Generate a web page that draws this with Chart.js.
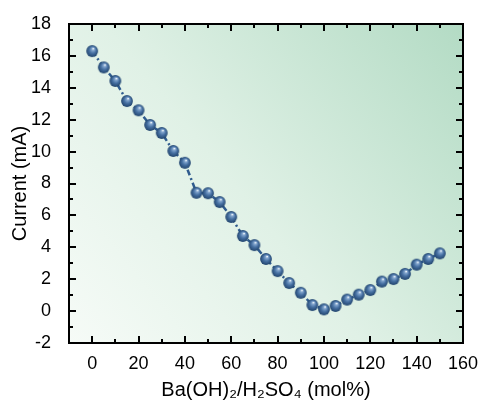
<!DOCTYPE html>
<html>
<head>
<meta charset="utf-8">
<script src="https://cdn.jsdelivr.net/npm/chart.js@4.4.0/dist/chart.umd.min.js"></script>
<style>
html,body{margin:0;padding:0;background:#fff;}
#wrap{width:481px;height:402px;position:relative;}
</style>
</head>
<body>
<div id="wrap"><canvas id="c" width="481" height="402"></canvas></div>
<script>
const ratios = [0,5,10,15,20,25,30,35,40,45,50,55,60,65,70,75,80,85,90,95,100,105,110,115,120,125,130,135,140,145,150];
const currents = [16.3,15.28,14.43,13.17,12.59,11.67,11.17,10.04,9.3,7.42,7.39,6.84,5.9,4.71,4.14,3.27,2.51,1.76,1.15,0.38,0.11,0.32,0.72,1.03,1.32,1.85,2.01,2.33,2.91,3.27,3.62];
const xTicks = [0,20,40,60,80,100,120,140,160];
const yTicks = [-2,0,2,4,6,8,10,12,14,16,18];
const xTitle = 'Ba(OH)\u2082/H\u2082SO\u2084 (mol%)';
const yTitle = 'Current (mA)';

// sphere marker
function makeSphere(r){
  const s = Math.ceil(r*2+2);
  const cv = document.createElement('canvas');
  cv.width = s; cv.height = s;
  const g = cv.getContext('2d');
  const c = s/2;
  const grad = g.createRadialGradient(c+r*0.2, c-r*0.45, r*0.05, c, c, r);
  grad.addColorStop(0, '#f2f7fc');
  grad.addColorStop(0.18, '#86a8d0');
  grad.addColorStop(0.55, '#4670a2');
  grad.addColorStop(1, '#22456e');
  g.fillStyle = grad;
  g.beginPath(); g.arc(c, c, r, 0, Math.PI*2); g.fill();
  return cv;
}
const sphere = makeSphere(5.9);

const bgPlugin = {
  id: 'bg',
  beforeDraw(chart){
    const {ctx, chartArea:a} = chart;
    ctx.save();
    const gr = ctx.createLinearGradient(a.left, a.bottom, a.right, a.top);
    gr.addColorStop(0, '#f6fbf7');
    gr.addColorStop(0.45, '#e0f1e6');
    gr.addColorStop(1, '#b3dbc4');
    ctx.fillStyle = gr;
    ctx.fillRect(a.left, a.top, a.right-a.left, a.bottom-a.top);
    ctx.restore();
  }
};

const framePlugin = {
  id: 'frame',
  afterDatasetsDraw(chart){
    const {ctx, chartArea:a, scales} = chart;
    const xs = scales.x, ys = scales.y;
    ctx.save();
    ctx.strokeStyle = '#000';
    ctx.lineWidth = 2;
    ctx.beginPath();
    for(let v=-10; v<=160; v+=10){
      const p = Math.round(xs.getPixelForValue(v));
      const L = (v%20===0) ? 7 : 4;
      if(p<=a.left+1 || p>=a.right-1) continue;
      ctx.moveTo(p, a.bottom); ctx.lineTo(p, a.bottom-L);
      ctx.moveTo(p, a.top); ctx.lineTo(p, a.top+L);
    }
    for(let v=-2; v<=18; v+=1){
      const p = Math.round(ys.getPixelForValue(v));
      const L = (v%2===0) ? 7 : 4;
      if(p<=a.top+1 || p>=a.bottom-1) continue;
      ctx.moveTo(a.left, p); ctx.lineTo(a.left+L, p);
      ctx.moveTo(a.right, p); ctx.lineTo(a.right-L, p);
    }
    ctx.stroke();
    ctx.strokeRect(a.left, a.top, a.right-a.left, a.bottom-a.top);
    ctx.restore();
  }
};

Chart.defaults.font.family = '"Liberation Sans", Arial, sans-serif';
Chart.defaults.color = '#000';

new Chart(document.getElementById('c'), {
  type: 'scatter',
  data: {
    datasets: [{
      data: ratios.map((x,i)=>({x:x, y:currents[i]})),
      showLine: true,
      borderColor: '#2f5b8e',
      borderWidth: 2.5,
      borderDash: [6,3,2,3],
      pointStyle: sphere,
      pointRadius: 6,
      pointHoverRadius: 6
    }]
  },
  options: {
    responsive: false,
    animation: false,
    events: [],
    layout: { padding: { top: 24, right: 18, left: 0, bottom: 0 } },
    plugins: { legend: {display:false}, tooltip: {enabled:false} },
    scales: {
      x: {
        type: 'linear', min: -10, max: 160,
        afterBuildTicks(s){ s.ticks = xTicks.map(v=>({value:v})); },
        grid: { display: false },
        border: { display: false },
        ticks: { font: {size: 18}, padding: 2, maxRotation: 0 },
        title: { display: true, text: xTitle, font: {size: 20}, padding: {top: 4, bottom: 0} },
        afterFit(s){ s.height = 59; s.paddingRight = 18; s.paddingLeft = 0; }
      },
      y: {
        type: 'linear', min: -2, max: 18,
        afterBuildTicks(s){ s.ticks = yTicks.map(v=>({value:v})); },
        grid: { display: false },
        border: { display: false },
        ticks: { font: {size: 18}, padding: 10 },
        title: { display: true, text: yTitle, font: {size: 20}, padding: {top: 8, bottom: 0} },
        afterFit(s){ s.width = 69; s.paddingTop = 0; s.paddingBottom = 0; }
      }
    }
  },
  plugins: [bgPlugin, framePlugin]
});
</script>
</body>
</html>
